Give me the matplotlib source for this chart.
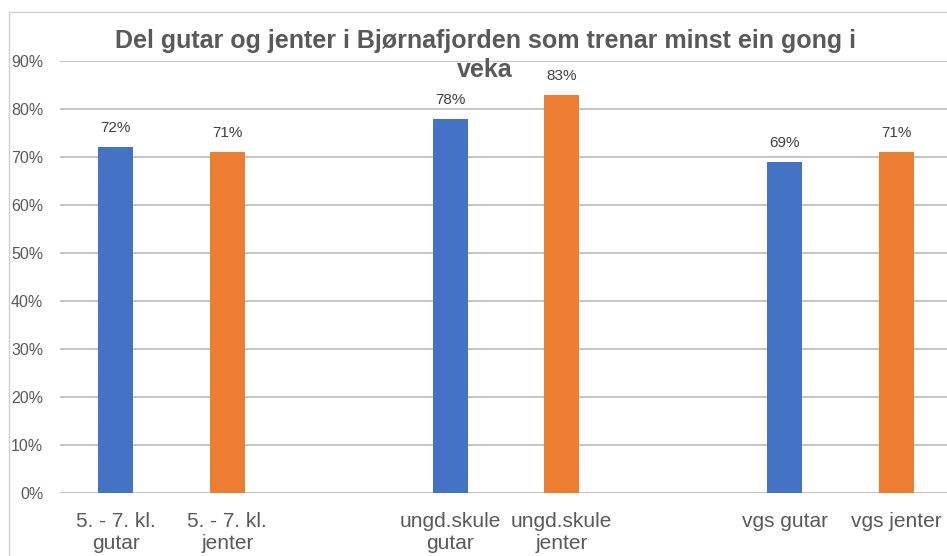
import numpy as np
import matplotlib.pyplot as plt
from matplotlib.patches import Rectangle

# andel som trenar minst ein gong i veka
categories = ["5. - 7. kl.\ngutar", "5. - 7. kl.\njenter", "",
              "ungd.skule\ngutar", "ungd.skule\njenter", "",
              "vgs gutar", "vgs jenter"]
values = [0.72, 0.71, None, 0.78, 0.83, None, 0.69, 0.71]
groups = ["gutar", "jenter", None, "gutar", "jenter", None, "gutar", "jenter"]
yticks = [0.0, 0.1, 0.2, 0.3, 0.4, 0.5, 0.6, 0.7, 0.8, 0.9]

colors = {"gutar": "#4472C4", "jenter": "#ED7D31"}
text_gray = "#595959"

plt.rcParams["font.family"] = ["Liberation Sans", "DejaVu Sans"]

W, H = 947, 556
fig = plt.figure(figsize=(W / 100, H / 100), dpi=100)

# chart frame (only top and left edge fall inside the image)
fig.patches.append(Rectangle((9 / W, -0.1), 1.2, (H - 12) / H + 0.1,
                             transform=fig.transFigure, fill=False,
                             edgecolor="#D0D0D0", linewidth=1.0))

ax = fig.add_axes([60 / W, 63 / H, 892 / W, 432 / H])
x = np.arange(len(categories))
for i, (v, g) in enumerate(zip(values, groups)):
    if v is None:
        continue
    ax.bar(x[i], v, width=0.31, color=colors[g], zorder=3)
    ax.text(x[i], v + 0.025, f"{round(v * 100)}%", ha="center", va="bottom",
            fontsize=11, color="#404040")

ax.set_xlim(-0.5, len(categories) - 0.5)
ax.set_ylim(0, 0.9)
ax.set_yticks(yticks)
ax.set_yticklabels([f"{round(t * 100)}%" for t in yticks])
ax.set_xticks(x)
ax.set_xticklabels(categories, fontsize=15, color=text_gray, linespacing=1.2)
ax.tick_params(axis="y", length=0, pad=12, labelsize=11.5, labelcolor=text_gray)
ax.tick_params(axis="x", length=0, pad=14)
ax.grid(axis="y", color="#C4C4C4", linewidth=1.4, zorder=0)
for s in ax.spines.values():
    s.set_visible(False)

fig.text(485 / W, 1 - 41 / H, "Del gutar og jenter i Bjørnafjorden som trenar minst ein gong i",
         ha="center", va="center", fontsize=18, fontweight="bold", color=text_gray)
fig.text(485 / W, 1 - 70 / H, "veka",
         ha="center", va="center", fontsize=18, fontweight="bold", color=text_gray)

fig.savefig("out.png", dpi=100)
